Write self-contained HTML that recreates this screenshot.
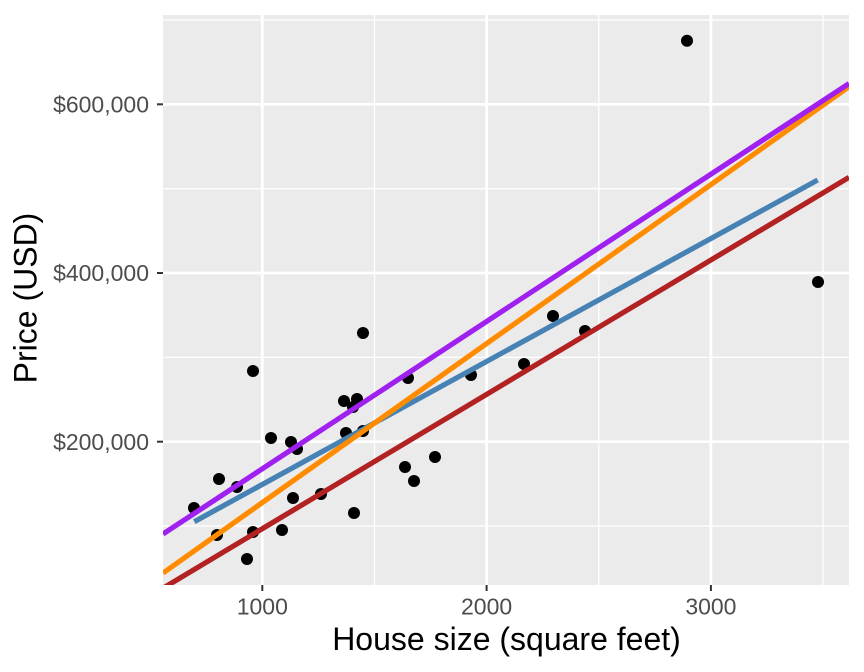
<!DOCTYPE html>
<html><head><meta charset="utf-8"><style>
html,body{margin:0;padding:0;background:#fff;}
svg{display:block;}
text{font-family:"Liberation Sans",Arial,sans-serif;}
</style></head><body>
<svg width="864" height="672" viewBox="0 0 864 672" xmlns="http://www.w3.org/2000/svg">
<defs><clipPath id="p"><rect x="163" y="15" width="686" height="570"/></clipPath></defs>
<rect x="0" y="0" width="864" height="672" fill="#fff"/>
<rect x="163" y="15" width="686" height="570" fill="#EBEBEB"/>
<g stroke="#fff" stroke-width="1.3">
<line x1="163" y1="20" x2="849" y2="20"/>
<line x1="163" y1="188.7" x2="849" y2="188.7"/>
<line x1="163" y1="357.4" x2="849" y2="357.4"/>
<line x1="163" y1="526" x2="849" y2="526"/>
<line x1="374.5" y1="15" x2="374.5" y2="585"/>
<line x1="598.8" y1="15" x2="598.8" y2="585"/>
<line x1="823.1" y1="15" x2="823.1" y2="585"/>
</g>
<g stroke="#fff" stroke-width="2.7">
<line x1="163" y1="104.3" x2="849" y2="104.3"/>
<line x1="163" y1="273" x2="849" y2="273"/>
<line x1="163" y1="441.7" x2="849" y2="441.7"/>
<line x1="262.3" y1="15" x2="262.3" y2="585"/>
<line x1="486.6" y1="15" x2="486.6" y2="585"/>
<line x1="710.9" y1="15" x2="710.9" y2="585"/>
</g>
<g clip-path="url(#p)">
<g fill="#000">
<circle cx="194" cy="508" r="6"/>
<circle cx="217" cy="535" r="6"/>
<circle cx="219" cy="479" r="6"/>
<circle cx="237" cy="487" r="6"/>
<circle cx="247" cy="559" r="6"/>
<circle cx="253" cy="532" r="6"/>
<circle cx="253" cy="371" r="6"/>
<circle cx="271" cy="438" r="6"/>
<circle cx="282" cy="530" r="6"/>
<circle cx="291" cy="442" r="6"/>
<circle cx="297" cy="449" r="6"/>
<circle cx="293" cy="498" r="6"/>
<circle cx="321" cy="494" r="6"/>
<circle cx="344" cy="401" r="6"/>
<circle cx="357" cy="399" r="6"/>
<circle cx="353" cy="407" r="6"/>
<circle cx="346" cy="433" r="6"/>
<circle cx="363" cy="431" r="6"/>
<circle cx="363" cy="333" r="6"/>
<circle cx="354" cy="513" r="6"/>
<circle cx="405" cy="467" r="6"/>
<circle cx="414" cy="481" r="6"/>
<circle cx="435" cy="457" r="6"/>
<circle cx="408" cy="378" r="6"/>
<circle cx="471" cy="375" r="6"/>
<circle cx="524" cy="364" r="6"/>
<circle cx="553" cy="316" r="6"/>
<circle cx="585" cy="331" r="6"/>
<circle cx="818" cy="282" r="6"/>
<circle cx="687" cy="40.7" r="6"/>
</g>
<g stroke-width="5.2" fill="none" stroke-linecap="butt">
<line x1="163" y1="588.2" x2="849" y2="177.3" stroke="#B22222"/>
<line x1="194.3" y1="521.7" x2="817.7" y2="180" stroke="#4682B4"/>
<line x1="163" y1="573" x2="849" y2="86.7" stroke="#FF8C00"/>
<line x1="163" y1="534" x2="849" y2="83.5" stroke="#A020F0"/>
</g>
</g>
<g stroke="#333" stroke-width="2">
<line x1="157" y1="104.3" x2="163" y2="104.3"/>
<line x1="157" y1="273" x2="163" y2="273"/>
<line x1="157" y1="441.7" x2="163" y2="441.7"/>
<line x1="262.3" y1="585" x2="262.3" y2="591"/>
<line x1="486.6" y1="585" x2="486.6" y2="591"/>
<line x1="710.9" y1="585" x2="710.9" y2="591"/>
</g>
<g fill="#4D4D4D" font-size="23" text-anchor="end">
<text x="149" y="112.5">$600,000</text>
<text x="149" y="281.2">$400,000</text>
<text x="149" y="449.9">$200,000</text>
</g>
<g fill="#4D4D4D" font-size="23" text-anchor="middle">
<text x="262.3" y="614.5">1000</text>
<text x="486.6" y="614.5">2000</text>
<text x="710.9" y="614.5">3000</text>
</g>
<text x="506.5" y="650" font-size="32" text-anchor="middle" fill="#000">House size (square feet)</text>
<text transform="translate(36.5,298) rotate(-90)" font-size="32" text-anchor="middle" fill="#000">Price (USD)</text>
</svg>
</body></html>
